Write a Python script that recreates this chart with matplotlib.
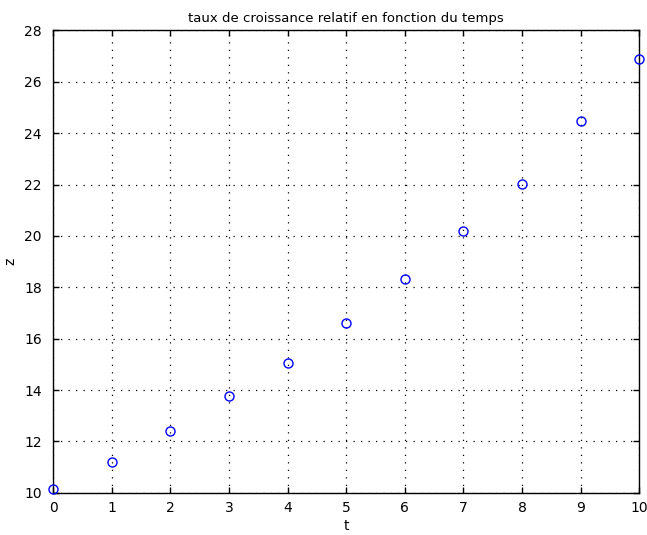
import matplotlib
matplotlib.use("Agg")
import matplotlib.pyplot as plt

t = [0, 1, 2, 3, 4, 5, 6, 7, 8, 9, 10]
z = [10.13, 11.19, 12.40, 13.76, 15.04, 16.62, 18.31, 20.19, 22.03, 24.47, 26.88]
x_ticks = list(range(0, 11))
y_ticks = list(range(10, 29, 2))

fig = plt.figure(figsize=(6.47, 5.35), dpi=100)
ax = fig.add_axes([0.082, 0.079, 0.906, 0.864])

ax.plot(t, z, linestyle="none", marker="o", markersize=6.5,
        markerfacecolor="none", markeredgecolor="blue", markeredgewidth=1.0,
        clip_on=False, zorder=3)

ax.set_xlim(0, 10)
ax.set_ylim(10, 28)
ax.set_xticks(x_ticks)
ax.set_yticks(y_ticks)
ax.tick_params(direction="in", length=4, width=1, labelsize=10,
               top=True, right=True)
ax.tick_params(axis="x", pad=6)
ax.tick_params(axis="y", pad=8)
ax.grid(True, linestyle=(0, (1, 5)), color="black", linewidth=0.9)
for sp in ax.spines.values():
    sp.set_linewidth(1.0)

ax.set_xlabel("t", fontsize=10, labelpad=3)
ax.set_ylabel("z", fontsize=10, labelpad=5)
ax.set_title("taux de croissance relatif en fonction du temps", fontsize=9.5, pad=6)

fig.savefig("out.png", dpi=100)
